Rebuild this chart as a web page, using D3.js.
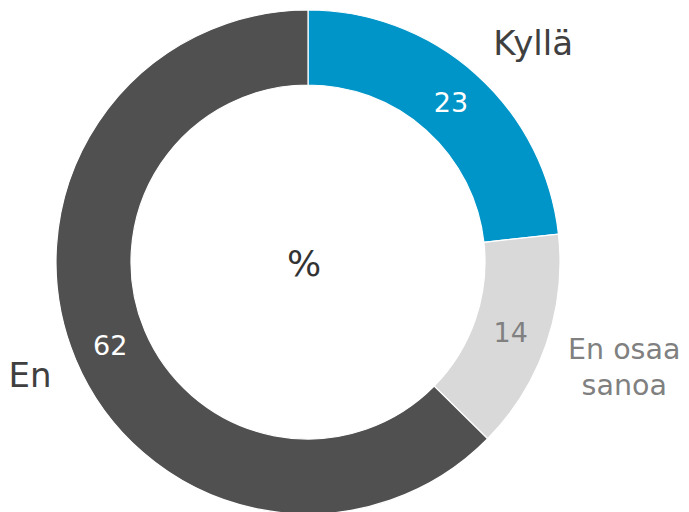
<!DOCTYPE html>
<html>
<head>
<meta charset="utf-8">
<script src="https://cdn.jsdelivr.net/npm/d3@7"></script>
<style>
  html, body { margin: 0; padding: 0; background: #fff; }
  svg { display: block; font-family: "DejaVu Sans", Verdana, sans-serif; }
</style>
</head>
<body>
<div class="canvas"></div>
<script>
// data
const categories = ['Kyllä', 'En osaa sanoa', 'En'];
const values = [23, 14, 62];
const labelLines = [['Kyllä'], ['En osaa', 'sanoa'], ['En']];
const centerLabel = '%';

// colours per slice
const colors = ['#0095c8', '#d9d9d9', '#505050'];
const valueColors = ['#ffffff', '#808080', '#ffffff'];
const nameColors = ['#404040', '#808080', '#404040'];

// dimensions
const width = 689;
const height = 512;
const cx = 308;
const cy = 262;
const outerR = 252;
const innerR = 177;

const svg = d3.select('.canvas')
  .append('svg')
  .attr('width', width)
  .attr('height', height);

const graph = svg.append('g')
  .attr('transform', `translate(${cx},${cy})`);

const pie = d3.pie().sort(null).value(d => d.value);
const arc = d3.arc().innerRadius(innerR).outerRadius(outerR);

const data = categories.map((c, i) => ({ name: c, value: values[i], i }));
const arcs = pie(data);

// slices
graph.selectAll('path.slice')
  .data(arcs)
  .enter()
  .append('path')
  .attr('class', 'slice')
  .attr('d', arc)
  .attr('fill', d => colors[d.data.i])
  .attr('stroke', '#fff')
  .attr('stroke-width', 1.2);

// value labels at the centroid
graph.selectAll('text.value')
  .data(arcs)
  .enter()
  .append('text')
  .attr('class', 'value')
  .attr('x', d => arc.centroid(d)[0])
  .attr('y', d => arc.centroid(d)[1] + 10)
  .attr('text-anchor', 'middle')
  .attr('font-size', 27)
  .attr('fill', d => valueColors[d.data.i])
  .text(d => d.data.value);

// category labels outside
const nameR = 278;
const nameNudge = [0, 6, 18];
const lineH = 35.6;

const names = graph.selectAll('text.name')
  .data(arcs)
  .enter()
  .append('text')
  .attr('class', 'name')
  .attr('font-size', d => d.data.i === 1 ? 28.5 : 34)
  .attr('fill', d => nameColors[d.data.i])
  .attr('text-anchor', d => {
    const a = (d.startAngle + d.endAngle) / 2;
    if (labelLines[d.data.i].length > 1) return 'middle';
    return a < Math.PI ? 'start' : 'end';
  })
  .attr('transform', d => {
    const a = (d.startAngle + d.endAngle) / 2;
    let x = Math.sin(a) * nameR;
    const y = -Math.cos(a) * nameR + nameNudge[d.data.i];
    if (labelLines[d.data.i].length > 1) x += 53.5;
    return `translate(${x},${y})`;
  });

names.selectAll('tspan')
  .data(d => labelLines[d.data.i])
  .enter()
  .append('tspan')
  .attr('x', 0)
  .attr('y', (d, j) => j * lineH)
  .text(d => d);

// centre label
graph.append('text')
  .attr('x', -4)
  .attr('y', 14)
  .attr('text-anchor', 'middle')
  .attr('font-size', 36)
  .attr('fill', '#333')
  .text(centerLabel);
</script>
</body>
</html>
